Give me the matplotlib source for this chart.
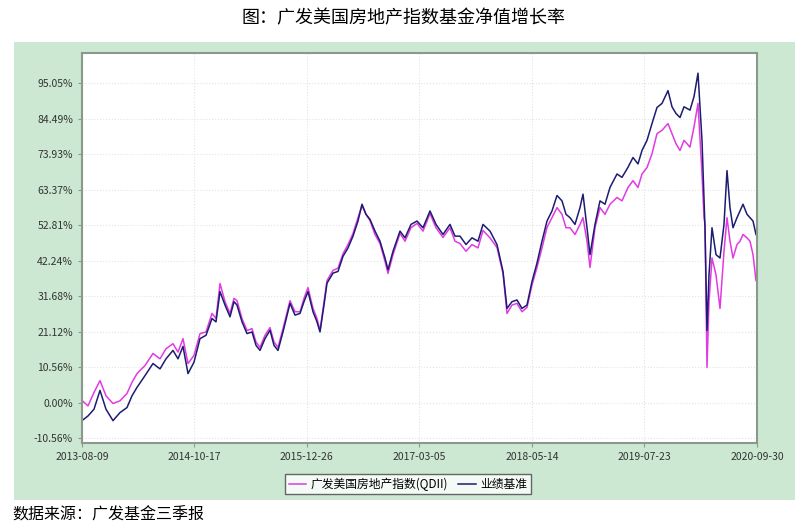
import matplotlib.pyplot as plt
import matplotlib.patches as mpatches
import numpy as np
import pandas as pd

plt.rcParams['font.family'] = ['Noto Sans CJK SC', 'DejaVu Sans']

px = [82, 88, 94, 100, 106, 113, 120, 127, 132, 137, 145, 153, 160, 166, 173, 178, 183, 188, 194, 200,
      206, 212, 216, 220, 225, 230, 234, 237, 242, 247, 252, 256, 260, 265, 270, 274, 278, 283, 290, 295,
      300, 304, 308, 313, 317, 320, 324, 327, 333, 338, 343, 348, 353, 358, 362, 366, 370, 375, 380, 385,
      388, 393, 400, 405, 411, 417, 423, 430, 436, 443, 450, 455, 460, 466, 472, 478, 483, 490, 497, 503,
      507, 512, 517, 522, 527, 532, 537, 542, 547, 552, 557, 562, 566, 570, 575, 580, 583, 587, 590, 595,
      600, 605, 610, 617, 622, 628, 633, 638, 642, 647, 652, 657, 662, 668, 672, 676, 680, 684, 690, 694,
      698, 702, 704, 705, 707, 709, 712, 716, 720, 724, 727, 730, 733, 737, 740, 743, 747, 750, 753, 756]
fund = [0.6, -1, 3, 6.5, 2, -0.3, 0.5, 2.7, 6, 8.6, 11, 14.6, 13, 16, 17.5, 15, 19, 11.6, 14, 20.5,
        21, 26.5, 25, 35.4, 30, 26.5, 31, 30.3, 25, 21.4, 22, 18, 16.4, 20, 22.3, 18, 16.4, 22, 30.3, 27,
        27, 31, 34.2, 28, 25, 21.4, 30, 36.3, 39.3, 40, 44.3, 47, 50.3, 55, 58.6, 56, 54.1, 50, 47.3, 42,
        38.4, 44, 50.3, 48, 52, 53.3, 51, 56.2, 52, 49.1, 52, 48, 47.3, 45, 47, 46, 51.2, 49, 46.1, 38.4,
        26.5, 29, 29.5, 27, 28.3, 35, 40.2, 46, 52.1, 55, 58, 56, 52, 52, 50, 53, 55, 48, 40.2, 52,
        58, 56, 59, 61, 60, 64, 66, 64, 68, 69.9, 74, 80, 81, 83, 80, 77, 75, 78, 76, 82,
        89, 68, 55, 53, 10.4, 30, 43, 38, 28, 45, 55, 48, 43, 47, 48, 50, 49, 48, 44, 36.3]
bench = [-5.4, -4, -2, 3.6, -2, -5.4, -3, -1.5, 2, 4.5, 8, 11.6, 10, 13, 15.5, 13, 16.7, 8.6, 12, 19,
         20, 25, 24, 33, 29, 25.5, 30, 29, 24, 20.5, 21, 17, 15.5, 19, 21.5, 17, 15.5, 21, 29.5, 26,
         26.5, 30, 33, 27, 24, 21, 29, 35.5, 38.5, 39, 43.5, 46, 49.5, 54, 59, 56, 54.5, 51, 48, 43,
         39.5, 45, 51, 49, 53, 54, 52, 57, 53, 50, 53, 49.5, 49.5, 47, 49, 48, 53, 51, 47, 39,
         28, 30, 30.5, 28, 29, 36, 41.5, 48, 54, 57, 61.6, 60, 56, 55, 53, 58, 62, 52, 44, 53,
         60, 59, 64, 68, 67, 70, 72.9, 71, 75, 78, 83, 87.8, 89, 92.8, 88, 86, 84.8, 88, 87, 91,
         98, 78, 60, 52, 21.4, 38, 52, 44, 43, 53, 69, 58, 52, 55, 57, 59, 56, 55, 54, 50]
tick_dates = ['2013-08-09', '2014-10-17', '2015-12-26', '2017-03-05', '2018-05-14', '2019-07-23', '2020-09-30']
yticks = [-10.56, 0.00, 10.56, 21.12, 31.68, 42.24, 52.81, 63.37, 73.93, 84.49, 95.05]

# pixel -> date
t0 = pd.Timestamp(tick_dates[0])
t1 = pd.Timestamp(tick_dates[-1])
dates = [t0 + (t1 - t0) * ((p - 82) / 675) for p in px]

fig = plt.figure(figsize=(8.07, 5.32), dpi=100)
bg = mpatches.Rectangle((14 / 807, 1 - 500 / 532), 781 / 807, 458 / 532,
                        transform=fig.transFigure, facecolor='#cce8d2', edgecolor='none', zorder=-5)
fig.add_artist(bg)
ax = fig.add_axes([82 / 807, 1 - 443 / 532, 675 / 807, 390 / 532])
ax.set_zorder(2)
ax.set_facecolor('white')
ax.plot(dates, fund, color='#e23ae2', linewidth=1.1, label='广发美国房地产指数(QDII)')
ax.plot(dates, bench, color='#1c1c72', linewidth=1.1, label='业绩基准')
ax.set_xlim(t0, t1)
ax.set_ylim(-12.05, 104)
ax.set_yticks(yticks)
ax.set_yticklabels(['%.2f%%' % v for v in yticks], fontsize=7.5, color='#333333')
ax.set_xticks([pd.Timestamp(d) for d in tick_dates])
ax.set_xticklabels(tick_dates, fontsize=7.5, color='#333333')
ax.grid(True, color='#e4e4e4', linestyle=':', linewidth=0.8)
for s in ax.spines.values():
    s.set_color('#8a9a8a')
    s.set_linewidth(1.5)
ax.tick_params(length=3, color='#8a9a8a')

fig.text(0.5, 1 - 18 / 532, '图：广发美国房地产指数基金净值增长率', ha='center', va='center', fontsize=13)
fig.text(12 / 807, 1 - 515 / 532, '数据来源：广发基金三季报', ha='left', va='center', fontsize=11.5)
leg = fig.legend(loc='center', bbox_to_anchor=(408 / 807, 1 - 484 / 532), ncol=2, fontsize=8.5,
                 frameon=True, fancybox=False, handlelength=1.5, columnspacing=0.8,
                 borderpad=0.3, handletextpad=0.4)
leg.get_frame().set_edgecolor('#444444')
leg.get_frame().set_facecolor('white')
leg.set_zorder(3)

fig.savefig('out.png', dpi=100)
